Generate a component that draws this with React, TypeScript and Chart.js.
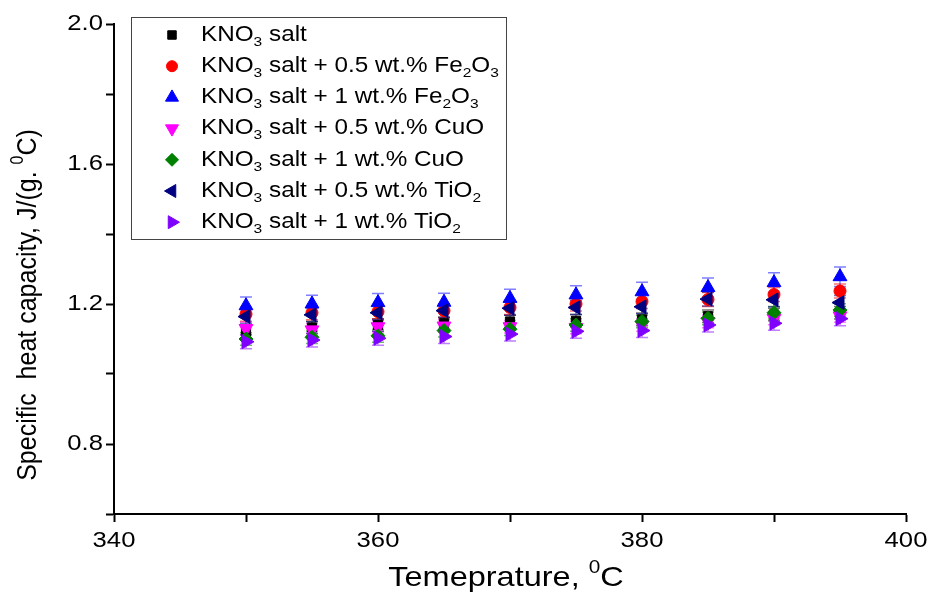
import React, { useEffect, useRef } from 'react';
import { Chart, registerables } from 'chart.js';
import { drawPoint } from 'chart.js/helpers';

Chart.register(...registerables);

// ---------------- data ----------------
const temperatures = [350, 355, 360, 365, 370, 375, 380, 385, 390, 395];

const kno3Salt = [1.121, 1.133, 1.140, 1.145, 1.150, 1.152, 1.156, 1.165, 1.170, 1.175];
const fe2o3Half = [1.171, 1.175, 1.178, 1.181, 1.190, 1.200, 1.207, 1.213, 1.227, 1.237];
const fe2o3One = [1.195, 1.200, 1.204, 1.205, 1.216, 1.226, 1.235, 1.247, 1.261, 1.278];
const cuoHalf = [1.130, 1.126, 1.135, 1.137, 1.135, 1.133, 1.140, 1.150, 1.159, 1.166];
const cuoOne = [1.100, 1.105, 1.109, 1.124, 1.128, 1.140, 1.150, 1.159, 1.175, 1.183];
const tio2Half = [1.164, 1.169, 1.175, 1.181, 1.188, 1.190, 1.192, 1.214, 1.212, 1.204];
const tio2One = [1.092, 1.097, 1.102, 1.107, 1.114, 1.122, 1.124, 1.140, 1.145, 1.158];

const errKno3Salt = [0.018, 0.018, 0.018, 0.018, 0.018, 0.018, 0.018, 0.018, 0.018, 0.018];
const errFe2o3Half = [0.020, 0.020, 0.020, 0.020, 0.020, 0.020, 0.020, 0.020, 0.020, 0.020];
const errFe2o3One = [0.025, 0.025, 0.026, 0.026, 0.026, 0.026, 0.027, 0.027, 0.028, 0.028];
const errCuoHalf = [0.018, 0.018, 0.018, 0.018, 0.018, 0.018, 0.018, 0.018, 0.018, 0.018];
const errCuoOne = [0.018, 0.018, 0.018, 0.018, 0.018, 0.018, 0.018, 0.018, 0.018, 0.018];
const errTio2Half = [0.020, 0.020, 0.020, 0.020, 0.020, 0.020, 0.020, 0.020, 0.020, 0.020];
const errTio2One = [0.020, 0.020, 0.020, 0.020, 0.020, 0.020, 0.020, 0.020, 0.020, 0.020];

const yTickLabels = [0.8, 1.2, 1.6, 2.0];
const xTickLabels = [340, 360, 380, 400];

type Seg = { t: string; k?: 'sub' | 'sup' };

const seriesLabels: Seg[][] = [
  [{ t: 'KNO' }, { t: '3', k: 'sub' }, { t: ' salt' }],
  [{ t: 'KNO' }, { t: '3', k: 'sub' }, { t: ' salt + 0.5 wt.% Fe' }, { t: '2', k: 'sub' }, { t: 'O' }, { t: '3', k: 'sub' }],
  [{ t: 'KNO' }, { t: '3', k: 'sub' }, { t: ' salt + 1 wt.% Fe' }, { t: '2', k: 'sub' }, { t: 'O' }, { t: '3', k: 'sub' }],
  [{ t: 'KNO' }, { t: '3', k: 'sub' }, { t: ' salt + 0.5 wt.% CuO' }],
  [{ t: 'KNO' }, { t: '3', k: 'sub' }, { t: ' salt + 1 wt.% CuO' }],
  [{ t: 'KNO' }, { t: '3', k: 'sub' }, { t: ' salt + 0.5 wt.% TiO' }, { t: '2', k: 'sub' }],
  [{ t: 'KNO' }, { t: '3', k: 'sub' }, { t: ' salt + 1 wt.% TiO' }, { t: '2', k: 'sub' }],
];

const xTitle: Seg[] = [{ t: 'Temeprature, ' }, { t: '0', k: 'sup' }, { t: 'C' }];
const yTitle: Seg[] = [{ t: 'Specific  heat capacity, J/(g. ' }, { t: '0', k: 'sup' }, { t: 'C)' }];

const seriesValues = [kno3Salt, fe2o3Half, fe2o3One, cuoHalf, cuoOne, tio2Half, tio2One];
const seriesErrors = [errKno3Salt, errFe2o3Half, errFe2o3One, errCuoHalf, errCuoOne, errTio2Half, errTio2One];

// ---------------- styles ----------------
const seriesStyles = [
  { color: '#000000', bar: 'rgba(0,0,0,0.55)', pointStyle: 'rect', rotation: 0, radius: 6.5 },
  { color: '#ff0000', bar: 'rgba(255,0,0,0.55)', pointStyle: 'circle', rotation: 0, radius: 6 },
  { color: '#0000ff', bar: 'rgba(0,0,255,0.5)', pointStyle: 'triangle', rotation: 0, radius: 8 },
  { color: '#ff00ff', bar: 'rgba(255,0,255,0.5)', pointStyle: 'triangle', rotation: 180, radius: 8 },
  { color: '#008000', bar: 'rgba(0,128,0,0.55)', pointStyle: 'rectRot', rotation: 0, radius: 7 },
  { color: '#000080', bar: 'rgba(0,0,128,0.55)', pointStyle: 'triangle', rotation: -90, radius: 8 },
  { color: '#8000ff', bar: 'rgba(128,0,255,0.5)', pointStyle: 'triangle', rotation: 90, radius: 8 },
];

const FONT = '"Liberation Sans", Arial, Helvetica, sans-serif';
const SX = 1.14;

function segSize(s: Seg, size: number) {
  return s.k ? size * 0.64 : size;
}

function richWidth(ctx: CanvasRenderingContext2D, segs: Seg[], size: number) {
  let w = 0;
  for (const s of segs) {
    ctx.font = `${segSize(s, size)}px ${FONT}`;
    w += ctx.measureText(s.t).width;
  }
  return w;
}

function drawRich(
  ctx: CanvasRenderingContext2D,
  segs: Seg[],
  x: number,
  y: number,
  size: number,
  align: 'left' | 'center' | 'right',
  sx = 1,
  sy = 1,
  rot = 0
) {
  ctx.save();
  ctx.translate(x, y);
  if (rot) ctx.rotate(rot);
  ctx.scale(sx, sy);
  const w = richWidth(ctx, segs, size);
  let cx = align === 'left' ? 0 : align === 'center' ? -w / 2 : -w;
  ctx.textBaseline = 'middle';
  ctx.textAlign = 'left';
  ctx.fillStyle = '#000';
  for (const s of segs) {
    const sz = segSize(s, size);
    ctx.font = `${sz}px ${FONT}`;
    const dy = s.k === 'sub' ? size * 0.33 : s.k === 'sup' ? -size * 0.36 : 0;
    ctx.fillText(s.t, cx, dy);
    cx += ctx.measureText(s.t).width;
  }
  ctx.restore();
}

const errorBarPlugin = {
  id: 'errorBars',
  beforeDatasetsDraw(chart: any) {
    const ctx: CanvasRenderingContext2D = chart.ctx;
    const xs = chart.scales.x;
    const ys = chart.scales.y;
    ctx.save();
    seriesValues.forEach((vals, i) => {
      const errs = seriesErrors[i];
      ctx.strokeStyle = seriesStyles[i].bar;
      ctx.lineWidth = 1.5;
      vals.forEach((v, j) => {
        const px = xs.getPixelForValue(temperatures[j]);
        const top = ys.getPixelForValue(v + errs[j]);
        const bot = ys.getPixelForValue(v - errs[j]);
        ctx.beginPath();
        ctx.moveTo(px, top);
        ctx.lineTo(px, bot);
        ctx.moveTo(px - 6, top);
        ctx.lineTo(px + 6, top);
        ctx.moveTo(px - 6, bot);
        ctx.lineTo(px + 6, bot);
        ctx.stroke();
      });
    });
    ctx.restore();
  },
};

const textPlugin = {
  id: 'texts',
  afterDraw(chart: any) {
    const ctx: CanvasRenderingContext2D = chart.ctx;
    const xs = chart.scales.x;
    const ys = chart.scales.y;
    const area = chart.chartArea;
    // tick labels
    yTickLabels.forEach((v) => {
      drawRich(ctx, [{ t: v.toFixed(1) }], area.left - 11, ys.getPixelForValue(v), 22.5, 'right', SX);
    });
    xTickLabels.forEach((v) => {
      drawRich(ctx, [{ t: String(v) }], xs.getPixelForValue(v), area.bottom + 27, 22.5, 'center', SX);
    });
    // axis titles
    drawRich(ctx, xTitle, 506, area.bottom + 64, 28.5, 'center', SX);
    drawRich(ctx, yTitle, 28, 305, 25, 'center', 1, SX, -Math.PI / 2);

    // legend
    const bx = 131, by = 17, bw = 375, bh = 222;
    ctx.save();
    ctx.strokeStyle = '#444';
    ctx.lineWidth = 1;
    ctx.strokeRect(bx + 0.5, by + 0.5, bw, bh);
    ctx.restore();
    seriesLabels.forEach((segs, i) => {
      const ry = 35 + i * 31.2;
      const st = seriesStyles[i];
      ctx.save();
      ctx.fillStyle = st.color;
      ctx.strokeStyle = st.color;
      drawPoint(ctx, { pointStyle: st.pointStyle as any, radius: st.radius - 0.5, rotation: st.rotation, borderWidth: 1 }, 172, ry);
      ctx.restore();
      drawRich(ctx, segs, 201, ry, 21.3, 'left', 1.14);
    });
  },
};

export default function App() {
  const ref = useRef<HTMLCanvasElement | null>(null);

  useEffect(() => {
    if (!ref.current) return;
    const datasets = seriesValues.map((vals, i) => ({
      label: seriesLabels[i].map((s) => s.t).join(''),
      data: temperatures.map((t, j) => ({ x: t, y: vals[j] })),
      showLine: false,
      backgroundColor: seriesStyles[i].color,
      borderColor: seriesStyles[i].color,
      pointStyle: seriesStyles[i].pointStyle as any,
      pointRotation: seriesStyles[i].rotation,
      pointRadius: seriesStyles[i].radius,
      pointBorderWidth: 1,
      order: seriesValues.length - 1 - i,
    }));

    const chart = new Chart(ref.current, {
      type: 'scatter',
      data: { datasets },
      options: {
        animation: false,
        responsive: false,
        devicePixelRatio: 1,
        layout: { padding: { left: 0, top: 24, right: 25, bottom: 0 } },
        plugins: { legend: { display: false }, tooltip: { enabled: false } },
        scales: {
          x: {
            type: 'linear',
            min: 340,
            max: 400,
            afterFit: (s: any) => {
              s.height = 81;
            },
            ticks: { display: false, stepSize: 10 },
            grid: {
              drawOnChartArea: false,
              drawTicks: true,
              tickLength: 8,
              tickWidth: 2,
              tickColor: '#000',
              color: '#000',
            },
            border: { display: true, color: '#000', width: 2 },
          },
          y: {
            type: 'linear',
            min: 0.6,
            max: 2.0,
            afterFit: (s: any) => {
              s.width = 114;
            },
            ticks: { display: false, stepSize: 0.2 },
            grid: {
              drawOnChartArea: false,
              drawTicks: true,
              tickLength: 8,
              tickWidth: 2,
              tickColor: '#000',
              color: '#000',
            },
            border: { display: true, color: '#000', width: 2 },
          },
        },
      },
      plugins: [errorBarPlugin, textPlugin],
    });
    return () => chart.destroy();
  }, []);

  return (
    <div style={{ position: 'fixed', left: 0, top: 0, width: 931, height: 595, background: '#fff' }}>
      <canvas ref={ref} width={931} height={595} style={{ width: 931, height: 595, display: 'block' }} />
    </div>
  );
}
